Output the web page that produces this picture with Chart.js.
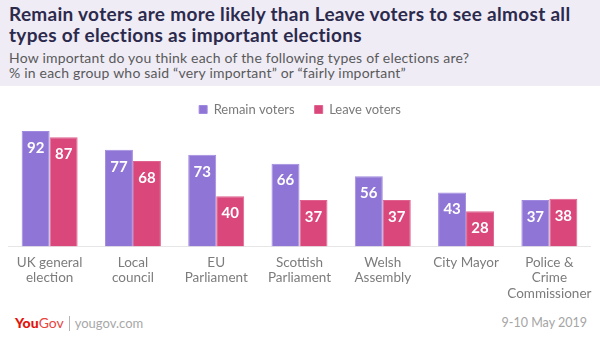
<!DOCTYPE html>
<html>
<head>
<meta charset="utf-8">
<script src="https://cdn.jsdelivr.net/npm/chart.js@4"></script>
<style>
  html, body { margin: 0; padding: 0; }
  body { width: 600px; height: 340px; position: relative; overflow: hidden; background: #fff; font-family: Lato, "Open Sans", sans-serif; }
  #header { position: absolute; left: 0; top: 0; width: 600px; height: 86px; background: #efecf6; }
  #title { position: absolute; left: 9px; top: 3px; width: 578px; font-size: 19px; letter-spacing: 0.3px; font-weight: 700; line-height: 21px; color: #2c2a4c; }
  #subtitle { position: absolute; left: 9px; top: 50px; font-size: 14px; letter-spacing: 0.2px; line-height: 15px; color: #5a5a5a; }
  #chart-wrap { position: absolute; left: 0; top: 83px; width: 600px; height: 226px; }
  #footer-logo { position: absolute; left: 15px; top: 314px; font-size: 14px; color: #e3120b; white-space: nowrap; }
  #footer-logo b { font-weight: 900; }
  #footer-logo .gov { font-weight: 400; color: #e8453f; }
  #footer-logo .site { color: #a8a8a8; font-size: 13px; }
  #footer-logo .sep { display: inline-block; width: 1px; height: 15px; background: #b5b5b5; vertical-align: -3px; margin: 0 5px 0 5px; }
  #date { position: absolute; right: 13px; top: 315px; font-size: 12.5px; color: #a5a5a5; }
</style>
</head>
<body>
<div id="header">
  <div id="title">Remain voters are more likely than Leave voters to see almost all types of elections as important elections</div>
  <div id="subtitle">How important do you think each of the following types of elections are?<br>% in each group who said “very important” or “fairly important”</div>
</div>
<div id="chart-wrap"><canvas id="chart"></canvas></div>
<div id="footer-logo"><b>You</b><span class="gov">Gov</span><span class="sep"></span><span class="site">yougov.com</span></div>
<div id="date">9-10 May 2019</div>

<script>
// Election types (multi-line axis labels)
const categories = [
  ['UK general', 'election'],
  ['Local', 'council'],
  ['EU', 'Parliament'],
  ['Scottish', 'Parliament'],
  ['Welsh', 'Assembly'],
  ['City Mayor'],
  ['Police &', 'Crime', 'Commissioner']
];

// % who said very or fairly important
const remainValues = [92, 77, 73, 66, 56, 43, 37];
const leaveValues  = [87, 68, 40, 37, 37, 28, 38];

const REMAIN_COLOR = '#8f75d5';
const LEAVE_COLOR  = '#d9477b';

// White value labels inside the top of each bar
const barLabels = {
    id: 'barLabels',
    afterDatasetsDraw(chart) {
        const ctx = chart.ctx;
        ctx.save();
        ctx.fillStyle = '#fff';
        ctx.font = 'bold 15px Lato, sans-serif';
        ctx.textAlign = 'center';
        ctx.textBaseline = 'middle';
        chart.data.datasets.forEach((ds, i) => {
            chart.getDatasetMeta(i).data.forEach((bar, j) => {
                ctx.fillText(ds.data[j], bar.x, bar.y + 17);
            });
        });
        ctx.restore();
    }
};

new Chart(document.getElementById('chart'), {
    type: 'bar',
    data: {
        labels: categories,
        datasets: [
            { label: 'Remain voters', data: remainValues, backgroundColor: REMAIN_COLOR, borderColor: '#a08ae0', borderWidth: 1 },
            { label: 'Leave voters', data: leaveValues, backgroundColor: LEAVE_COLOR, borderColor: '#e0628f', borderWidth: 1 }
        ]
    },
    options: {
        responsive: true,
        maintainAspectRatio: false,
        animation: false,
        layout: { padding: { left: 8, right: 8, top: 0, bottom: 0 } },
        datasets: { bar: { categoryPercentage: 0.672, barPercentage: 1.0 } },
        plugins: {
            legend: {
                position: 'top',
                align: 'center',
                labels: {
                    boxWidth: 8, boxHeight: 8, padding: 20,
                    color: '#7a7a7a',
                    font: { family: 'Lato, sans-serif', size: 13 }
                }
            },
            tooltip: { enabled: false }
        },
        scales: {
            x: {
                grid: { display: false, drawTicks: false, tickLength: 0 },
                border: { display: true, color: '#e6e6e6', width: 1 },
                ticks: {
                    color: '#7c7c7c',
                    padding: 8,
                    maxRotation: 0,
                    autoSkip: false,
                    font: { family: 'Lato, sans-serif', size: 13.5, lineHeight: 1.15 }
                }
            },
            y: { display: false, min: 0, max: 96 }
        }
    },
    plugins: [barLabels]
});
</script>
</body>
</html>
